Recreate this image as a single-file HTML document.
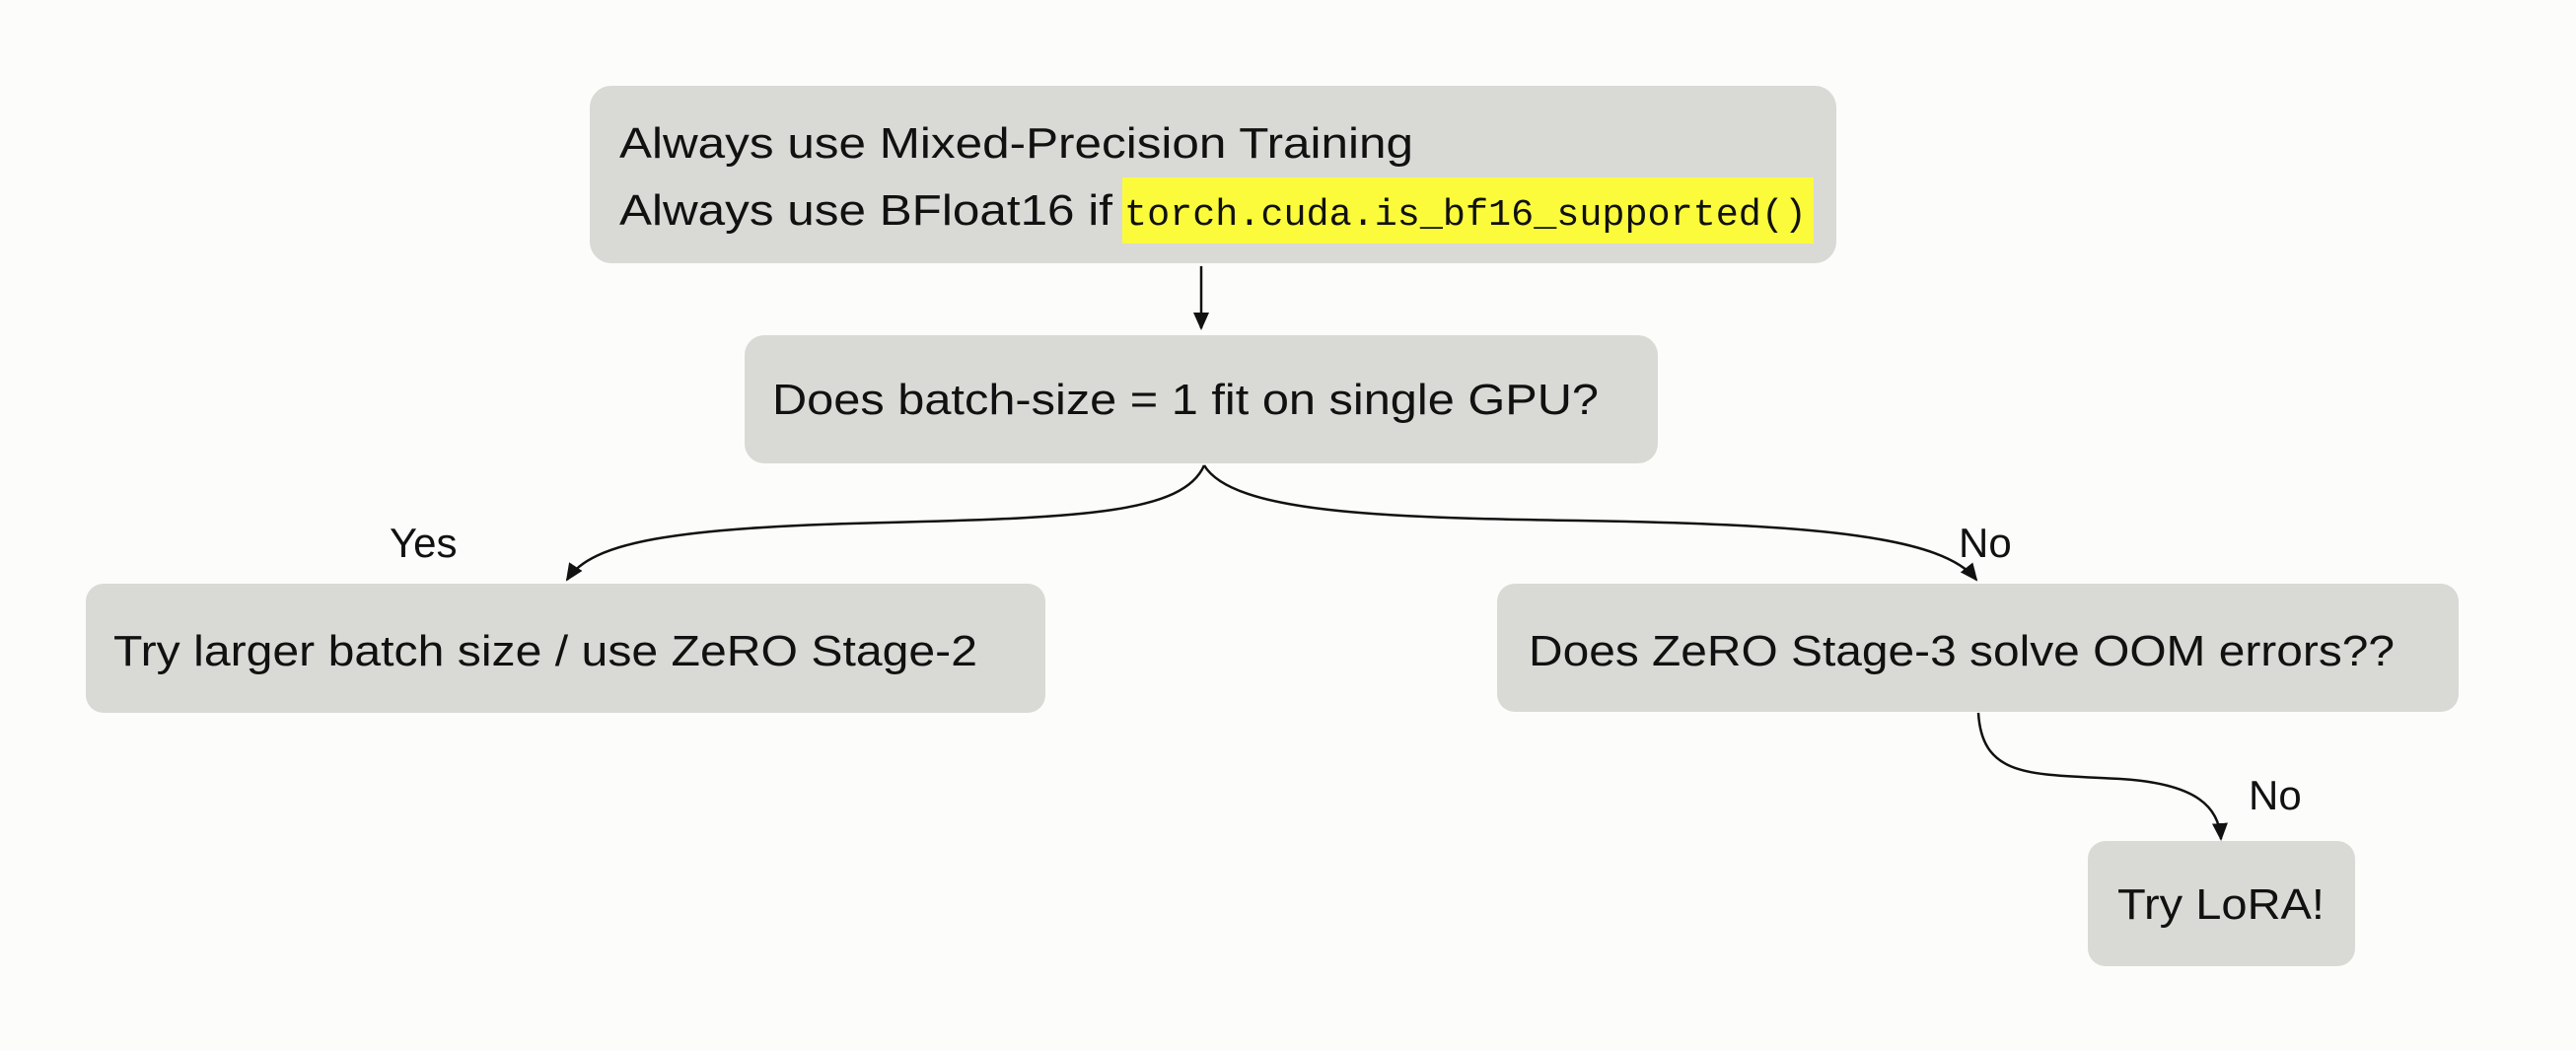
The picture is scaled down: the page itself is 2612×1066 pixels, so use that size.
<!DOCTYPE html>
<html><head><meta charset="utf-8"><style>
html,body{margin:0;padding:0;background:#fcfcfa;}
svg{display:block}
text{font-family:"Liberation Sans",sans-serif;fill:#111;}
</style></head><body>
<svg width="2612" height="1066" viewBox="0 0 2612 1066" xmlns="http://www.w3.org/2000/svg">
<defs><marker id="a" markerWidth="10" markerHeight="10" refX="8" refY="5" orient="auto" markerUnits="userSpaceOnUse"><path d="M0,0 L10,5 L0,10 Z" fill="#111"/></marker>
<marker id="b" markerWidth="20" markerHeight="20" refX="16" refY="8" orient="auto" markerUnits="userSpaceOnUse"><path d="M0,0 L18,8 L0,16 Z" fill="#111"/></marker></defs>
<rect x="598" y="87" width="1264" height="180" rx="22" fill="#d9d9d6"/>
<rect x="1138" y="180" width="701" height="67" fill="#fbfb3c"/>
<text x="628" y="160" font-size="44" textLength="805" lengthAdjust="spacingAndGlyphs">Always use Mixed-Precision Training</text>
<text x="628" y="228" font-size="44" textLength="500" lengthAdjust="spacingAndGlyphs">Always use BFloat16 if</text>
<text x="1140" y="228" font-size="38" style="font-family:'Liberation Mono',monospace" textLength="692" lengthAdjust="spacingAndGlyphs">torch.cuda.is_bf16_supported()</text>
<line x1="1218" y1="270" x2="1218" y2="333" stroke="#111" stroke-width="2.5" marker-end="url(#b)"/>
<rect x="755" y="340" width="926" height="130" rx="20" fill="#d9d9d6"/>
<text x="783" y="420" font-size="44" textLength="838" lengthAdjust="spacingAndGlyphs">Does batch-size = 1 fit on single GPU?</text>
<path d="M1221,472 C1200,520 1100,525 900,530 C680,535 600,550 575,588" fill="none" stroke="#111" stroke-width="2.5" marker-end="url(#b)"/>
<path d="M1221,472 C1250,520 1400,525 1600,528 C1850,532 1970,545 2004,588" fill="none" stroke="#111" stroke-width="2.5" marker-end="url(#b)"/>
<text x="395" y="565" font-size="42">Yes</text>
<text x="1986" y="565" font-size="42">No</text>
<rect x="87" y="592" width="973" height="131" rx="18" fill="#d9d9d6"/>
<text x="115" y="675" font-size="44" textLength="876" lengthAdjust="spacingAndGlyphs">Try larger batch size / use ZeRO Stage-2</text>
<rect x="1518" y="592" width="975" height="130" rx="18" fill="#d9d9d6"/>
<text x="1550" y="675" font-size="44" textLength="878" lengthAdjust="spacingAndGlyphs">Does ZeRO Stage-3 solve OOM errors??</text>
<path d="M2006,723 C2010,790 2060,785 2150,790 C2230,795 2250,820 2252,851" fill="none" stroke="#111" stroke-width="2.5" marker-end="url(#b)"/>
<text x="2280" y="821" font-size="42">No</text>
<rect x="2117" y="853" width="271" height="127" rx="18" fill="#d9d9d6"/>
<text x="2147" y="932" font-size="44" textLength="210" lengthAdjust="spacingAndGlyphs">Try LoRA!</text>
</svg>
</body></html>
